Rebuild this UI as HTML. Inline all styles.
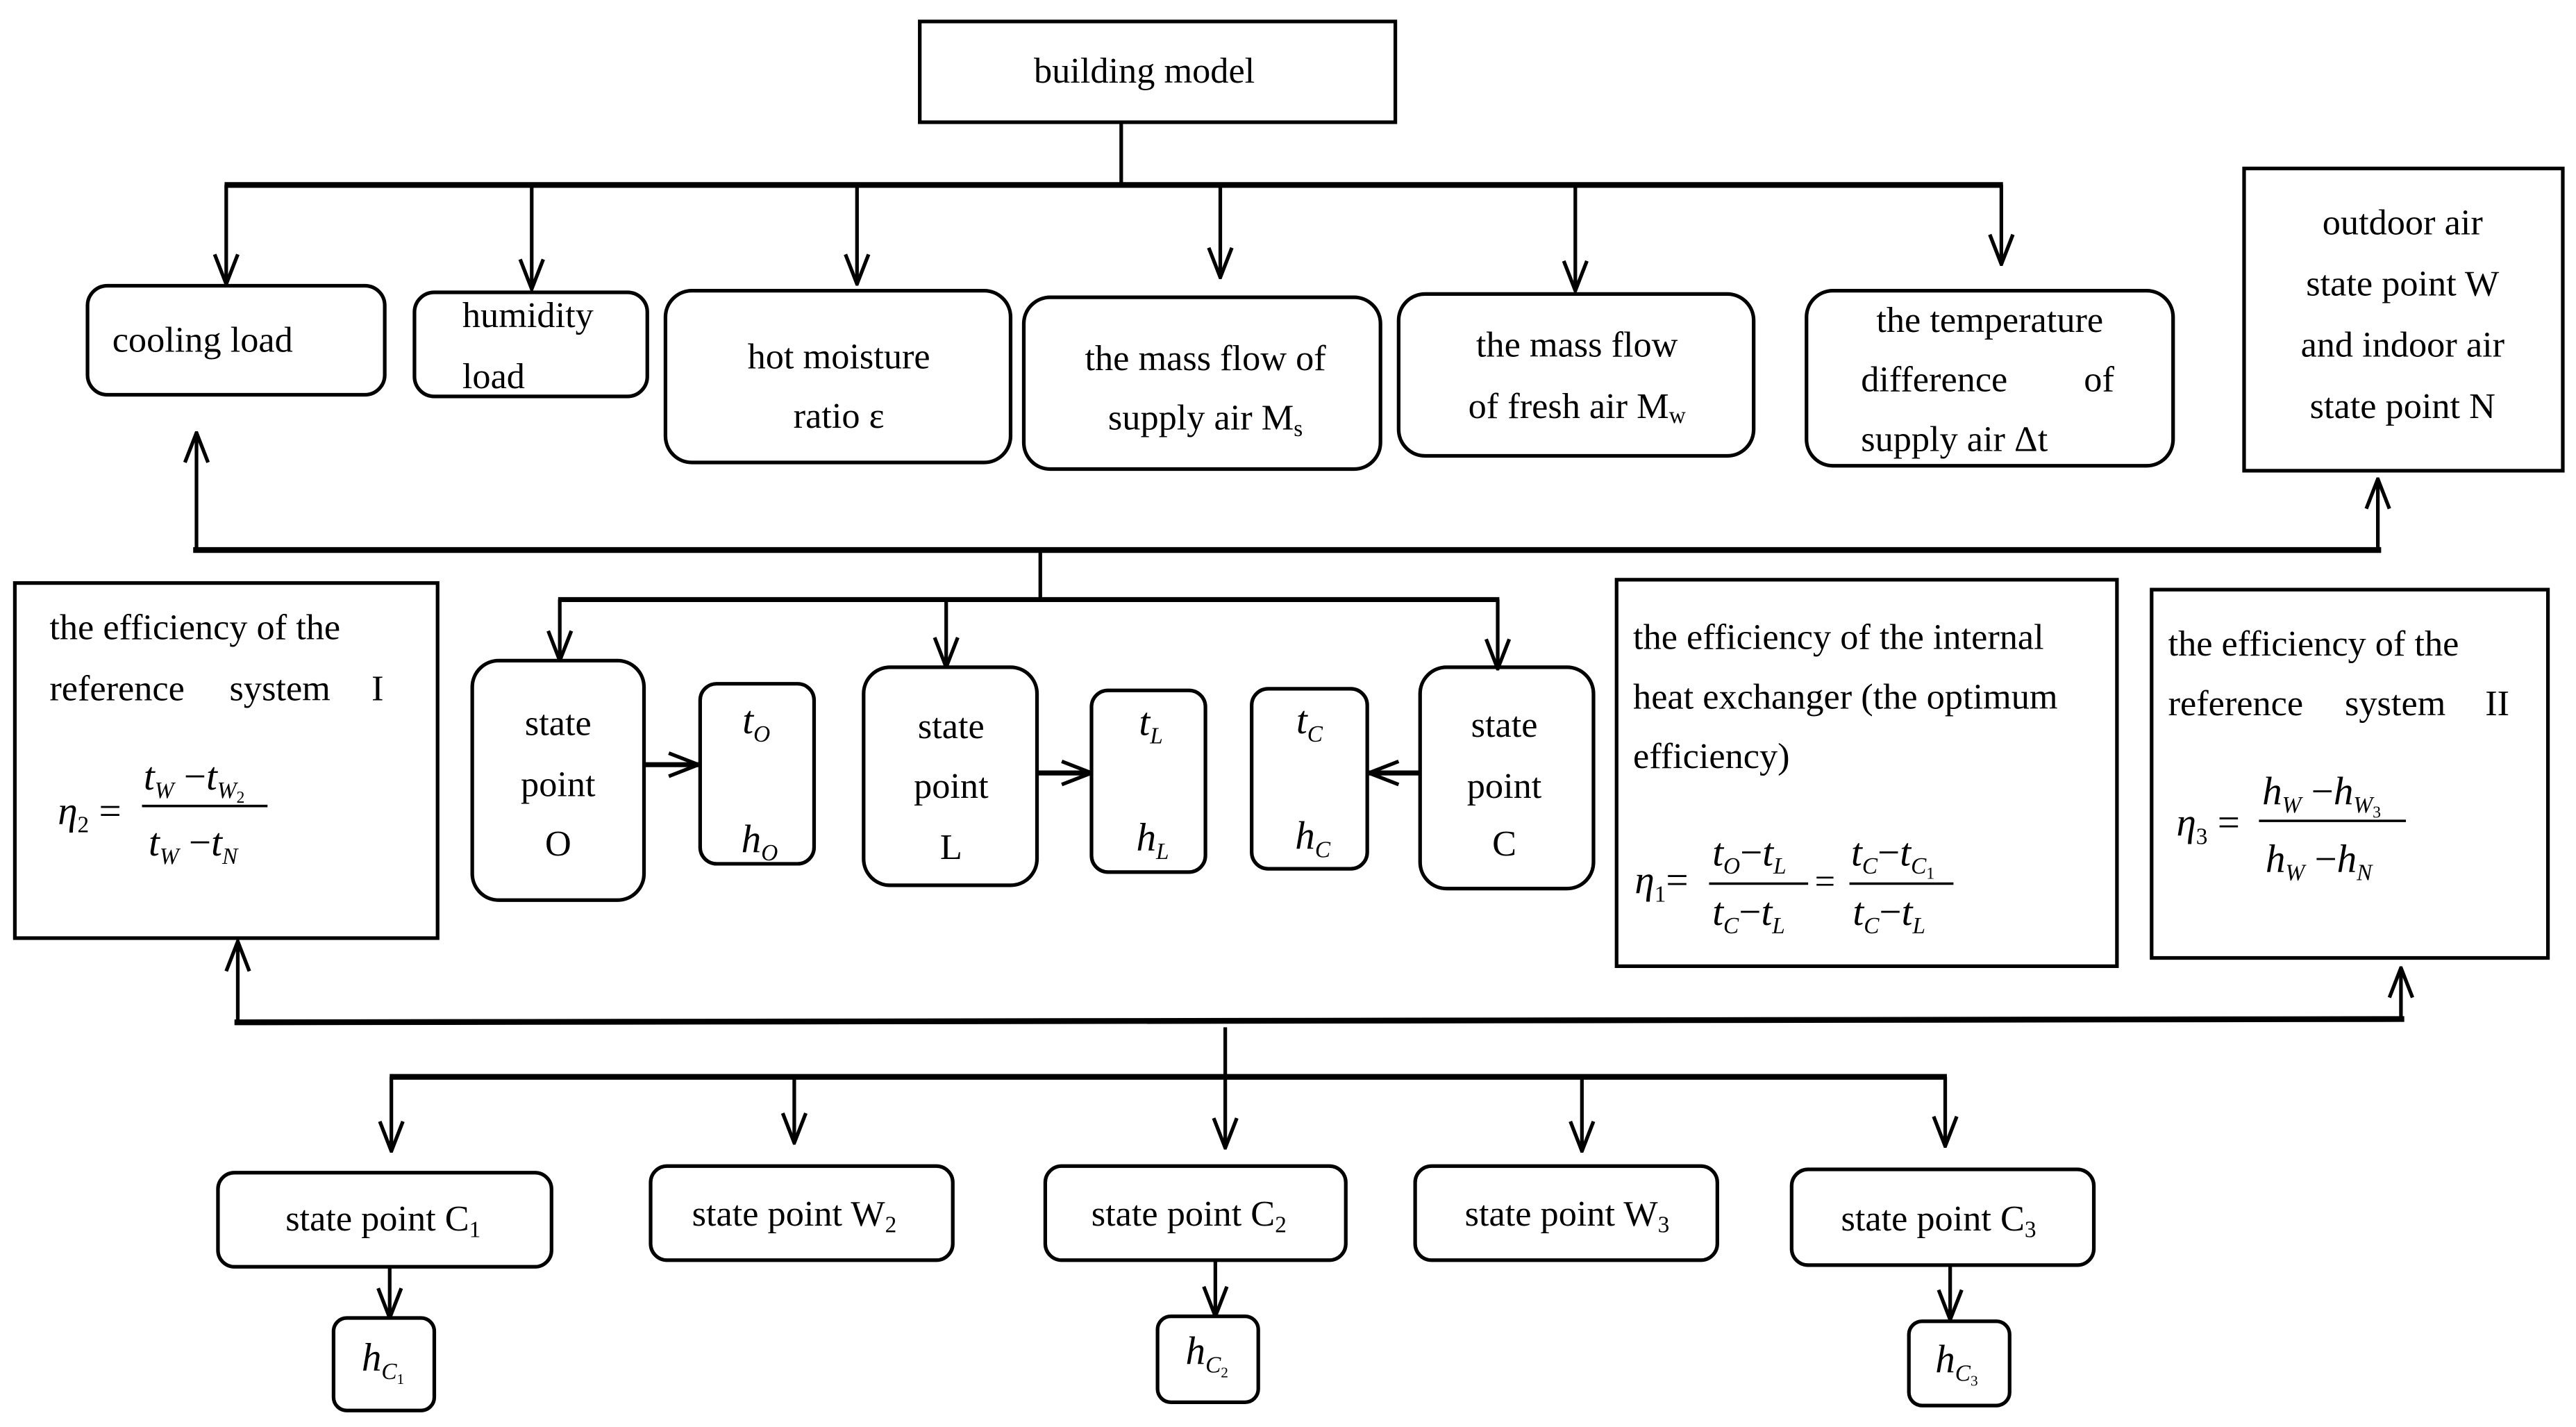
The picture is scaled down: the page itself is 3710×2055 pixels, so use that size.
<!DOCTYPE html>
<html><head><meta charset="utf-8"><style>
html,body{margin:0;padding:0;background:#fff;}
svg{display:block;}
svg text{font-family:'Liberation Serif','Times New Roman',Times,serif;font-size:22px;fill:#000;}
.c{text-anchor:middle;}
.i{font-style:italic;font-size:24px;}
.s{font-size:14px;}
</style></head><body>
<svg width="3710" height="2055" viewBox="0 0 1560 864" preserveAspectRatio="none" xmlns="http://www.w3.org/2000/svg" font-family="Liberation Serif, Times New Roman, serif">
<defs>
<marker id="a" viewBox="0 0 20 20" refX="19" refY="10" markerWidth="20" markerHeight="20" markerUnits="userSpaceOnUse" orient="auto">
<path d="M1,3 L19,10 L1,17" fill="none" stroke="#000" stroke-width="2.2"/>
</marker>
</defs>
<g fill="none" stroke="#000" stroke-width="2.2">
<rect x="557" y="13" width="288" height="61"/>
<line x1="679" y1="74" x2="679" y2="112"/>
<line x1="136" y1="112" x2="1213" y2="112" stroke-width="3.5"/>
<line x1="137" y1="112" x2="137" y2="172" marker-end="url(#a)"/>
<line x1="322" y1="112" x2="322" y2="175" marker-end="url(#a)"/>
<line x1="519" y1="112" x2="519" y2="172" marker-end="url(#a)"/>
<line x1="739" y1="112" x2="739" y2="168" marker-end="url(#a)"/>
<line x1="954" y1="112" x2="954" y2="176" marker-end="url(#a)"/>
<line x1="1212" y1="112" x2="1212" y2="160" marker-end="url(#a)"/>
<rect x="53" y="173" width="180" height="66" rx="12"/>
<rect x="251" y="177" width="141" height="63" rx="12"/>
<rect x="403" y="176" width="209" height="104" rx="16"/>
<rect x="620" y="180" width="216" height="104" rx="16"/>
<rect x="847" y="178" width="215" height="98" rx="16"/>
<rect x="1094" y="176" width="222" height="106" rx="16"/>
<rect x="1359" y="102" width="193" height="183"/>
<line x1="117" y1="333" x2="1442" y2="333" stroke-width="3.5"/>
<line x1="119" y1="333" x2="119" y2="262" marker-end="url(#a)"/>
<line x1="1440" y1="333" x2="1440" y2="290" marker-end="url(#a)"/>
<line x1="630" y1="333" x2="630" y2="363"/>
<line x1="338" y1="363" x2="908" y2="363" stroke-width="3"/>
<line x1="339" y1="363" x2="339" y2="400" marker-end="url(#a)"/>
<line x1="573" y1="363" x2="573" y2="404" marker-end="url(#a)"/>
<line x1="907" y1="363" x2="907" y2="405" marker-end="url(#a)"/>
<rect x="9" y="353" width="256" height="215"/>
<rect x="286" y="400" width="104" height="145" rx="16"/>
<line x1="390" y1="463" x2="423" y2="463" marker-end="url(#a)" stroke-width="3"/>
<rect x="424" y="414" width="69" height="109" rx="10"/>
<rect x="523" y="404" width="105" height="132" rx="16"/>
<line x1="628" y1="468" x2="661" y2="468" marker-end="url(#a)" stroke-width="3"/>
<rect x="661" y="418" width="69" height="110" rx="10"/>
<rect x="758" y="417" width="70" height="109" rx="10"/>
<line x1="860" y1="468" x2="829" y2="468" marker-end="url(#a)" stroke-width="3"/>
<rect x="860" y="404" width="105" height="134" rx="16"/>
<rect x="979" y="351" width="303" height="234"/>
<rect x="1303" y="357" width="240" height="223"/>
<line x1="142" y1="619" x2="1456" y2="617" stroke-width="3.5"/>
<line x1="144" y1="619" x2="144" y2="570" marker-end="url(#a)"/>
<line x1="1454" y1="617" x2="1454" y2="586" marker-end="url(#a)"/>
<line x1="742" y1="622" x2="742" y2="695" marker-end="url(#a)"/>
<line x1="236" y1="652" x2="1179" y2="652" stroke-width="3.5"/>
<line x1="237" y1="652" x2="237" y2="697" marker-end="url(#a)"/>
<line x1="481" y1="652" x2="481" y2="692" marker-end="url(#a)"/>
<line x1="958" y1="652" x2="958" y2="697" marker-end="url(#a)"/>
<line x1="1178" y1="652" x2="1178" y2="694" marker-end="url(#a)"/>
<rect x="132" y="710" width="202" height="57" rx="10"/>
<rect x="394" y="706" width="183" height="57" rx="10"/>
<rect x="633" y="706" width="182" height="57" rx="10"/>
<rect x="857" y="706" width="183" height="57" rx="10"/>
<rect x="1085" y="708" width="183" height="58" rx="10"/>
<line x1="236" y1="767" x2="236" y2="798" marker-end="url(#a)"/>
<line x1="736" y1="763" x2="736" y2="797" marker-end="url(#a)"/>
<line x1="1181" y1="766" x2="1181" y2="799" marker-end="url(#a)"/>
<rect x="202" y="798" width="61" height="56" rx="8"/>
<rect x="701" y="797" width="61" height="52" rx="8"/>
<rect x="1156" y="800" width="61" height="51" rx="8"/>
<line x1="86" y1="488" x2="162" y2="488" stroke-width="1.5"/>
<line x1="1035" y1="535" x2="1095" y2="535" stroke-width="1.5"/>
<line x1="1120" y1="535" x2="1183" y2="535" stroke-width="1.5"/>
<line x1="1368" y1="497" x2="1457" y2="497" stroke-width="1.5"/>
</g>
<text class="c" x="693" y="50">building model</text>
<text x="68" y="213">cooling load</text>
<text x="280" y="198">humidity</text>
<text x="280" y="235">load</text>
<text class="c" x="508" y="223">hot moisture</text>
<text class="c" x="508" y="259">ratio ε</text>
<text class="c" x="730" y="224">the mass flow of</text>
<text class="c" x="730" y="260">supply air M<tspan class="s" dy="4">s</tspan></text>
<text class="c" x="955" y="216">the mass flow</text>
<text class="c" x="955" y="253">of fresh air M<tspan class="s" dy="3">w</tspan></text>
<text class="c" x="1205" y="201">the temperature</text>
<text x="1127" y="237">difference</text><text x="1262" y="237">of</text>
<text x="1127" y="273">supply air Δt</text>
<text class="c" x="1455" y="142">outdoor air</text>
<text class="c" x="1455" y="179">state point W</text>
<text class="c" x="1455" y="216">and indoor air</text>
<text class="c" x="1455" y="253">state point N</text>
<text x="30" y="387">the efficiency of the</text>
<text x="30" y="424">reference</text><text x="139" y="424">system</text><text x="225" y="424">I</text>
<text class="i" x="35" y="499">η<tspan class="s" font-style="normal" dy="5">2</tspan><tspan dy="-5" font-style="normal"> =</tspan></text>
<text class="i" x="87" y="478">t<tspan class="s" dy="5">W</tspan><tspan dy="-5" font-style="normal"> −</tspan>t<tspan class="s" dy="5">W</tspan><tspan font-size="10" dy="3" font-style="normal">2</tspan></text>
<text class="i" x="90" y="518">t<tspan class="s" dy="5">W</tspan><tspan dy="-5" font-style="normal"> −</tspan>t<tspan class="s" dy="5">N</tspan></text>
<text class="c" x="338" y="445">state</text>
<text class="c" x="338" y="482">point</text>
<text class="c" x="338" y="518">O</text>
<text class="i c" x="458" y="444">t<tspan class="s" dy="5">O</tspan></text>
<text class="i c" x="460" y="516">h<tspan class="s" dy="5">O</tspan></text>
<text class="c" x="576" y="447">state</text>
<text class="c" x="576" y="483">point</text>
<text class="c" x="576" y="520">L</text>
<text class="i c" x="697" y="445">t<tspan class="s" dy="5">L</tspan></text>
<text class="i c" x="698" y="515">h<tspan class="s" dy="5">L</tspan></text>
<text class="i c" x="793" y="444">t<tspan class="s" dy="5">C</tspan></text>
<text class="i c" x="795" y="514">h<tspan class="s" dy="5">C</tspan></text>
<text class="c" x="911" y="446">state</text>
<text class="c" x="911" y="483">point</text>
<text class="c" x="911" y="518">C</text>
<text x="989" y="393">the efficiency of the internal</text>
<text x="989" y="429">heat exchanger (the optimum</text>
<text x="989" y="465">efficiency)</text>
<text class="i" x="990" y="541">η<tspan class="s" font-style="normal" dy="5">1</tspan><tspan dy="-5" font-style="normal">=</tspan></text>
<text class="i" x="1037" y="524">t<tspan class="s" dy="5">O</tspan><tspan dy="-5" font-style="normal">−</tspan>t<tspan class="s" dy="5">L</tspan></text>
<text class="i" x="1037" y="560">t<tspan class="s" dy="5">C</tspan><tspan dy="-5" font-style="normal">−</tspan>t<tspan class="s" dy="5">L</tspan></text>
<text x="1099" y="541">=</text>
<text class="i" x="1121" y="524">t<tspan class="s" dy="5">C</tspan><tspan dy="-5" font-style="normal">−</tspan>t<tspan class="s" dy="5">C</tspan><tspan font-size="10" dy="3" font-style="normal">1</tspan></text>
<text class="i" x="1122" y="560">t<tspan class="s" dy="5">C</tspan><tspan dy="-5" font-style="normal">−</tspan>t<tspan class="s" dy="5">L</tspan></text>
<text x="1313" y="397">the efficiency of the</text>
<text x="1313" y="433">reference</text><text x="1420" y="433">system</text><text x="1505" y="433">II</text>
<text class="i" x="1318" y="506">η<tspan class="s" font-style="normal" dy="5">3</tspan><tspan dy="-5" font-style="normal"> =</tspan></text>
<text class="i" x="1370" y="487">h<tspan class="s" dy="5">W</tspan><tspan dy="-5" font-style="normal"> −</tspan>h<tspan class="s" dy="5">W</tspan><tspan font-size="10" dy="3" font-style="normal">3</tspan></text>
<text class="i" x="1372" y="528">h<tspan class="s" dy="5">W</tspan><tspan dy="-5" font-style="normal"> −</tspan>h<tspan class="s" dy="5">N</tspan></text>
<text class="c" x="232" y="745">state point C<tspan class="s" dy="4">1</tspan></text>
<text class="c" x="481" y="742">state point W<tspan class="s" dy="4">2</tspan></text>
<text class="c" x="720" y="742">state point C<tspan class="s" dy="4">2</tspan></text>
<text class="c" x="949" y="742">state point W<tspan class="s" dy="4">3</tspan></text>
<text class="c" x="1174" y="745">state point C<tspan class="s" dy="4">3</tspan></text>
<text class="i" x="219" y="830">h<tspan class="s" dy="5">C</tspan><tspan font-size="9" dy="3" font-style="normal">1</tspan></text>
<text class="i" x="718" y="826">h<tspan class="s" dy="5">C</tspan><tspan font-size="9" dy="3" font-style="normal">2</tspan></text>
<text class="i" x="1172" y="831">h<tspan class="s" dy="5">C</tspan><tspan font-size="9" dy="3" font-style="normal">3</tspan></text>
</svg>
</body></html>
